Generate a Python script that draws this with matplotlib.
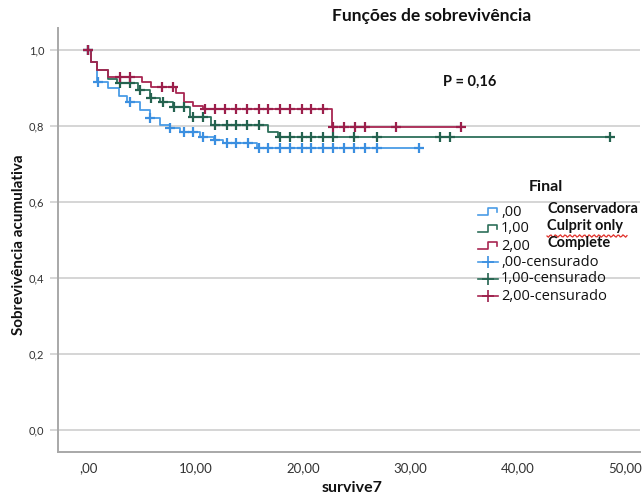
import numpy as np
import matplotlib
matplotlib.use("Agg")
import matplotlib.pyplot as plt
from matplotlib.lines import Line2D

# Kaplan-Meier step data: event times and survival after each event
blue_t = [0.3, 0.8, 1.9, 2.9, 3.6, 4.8, 5.8, 6.7, 7.6, 8.6, 10.4, 11.7, 12.6, 15.7]
blue_s = [0.969, 0.917, 0.900, 0.880, 0.864, 0.842, 0.820, 0.803, 0.794, 0.785,
          0.772, 0.763, 0.754, 0.741]
blue_cens = [0.0, 0.9, 3.9, 5.8, 7.6, 8.9, 9.8, 10.7, 11.8, 12.9, 13.8, 14.9, 15.9,
             16.8, 17.9, 18.8, 19.9, 20.8, 21.9, 22.8, 23.8, 24.8, 25.8, 26.9, 30.8]

green_t = [0.3, 0.8, 1.9, 2.7, 4.7, 5.8, 6.7, 7.9, 9.5, 11.5, 16.8, 17.7]
green_s = [0.969, 0.947, 0.925, 0.912, 0.895, 0.873, 0.864, 0.851, 0.825, 0.803,
           0.785, 0.772]
green_cens = [0.0, 3.0, 3.9, 4.8, 5.9, 7.0, 8.0, 8.9, 9.8, 10.7, 11.8, 12.9, 13.8,
              14.8, 15.9, 17.9, 18.8, 19.9, 20.8, 21.9, 22.8, 24.8, 26.9, 32.8,
              33.7, 48.6]

red_t = [0.3, 0.8, 1.9, 5.0, 5.9, 8.2, 8.9, 9.8, 10.7, 22.7]
red_s = [0.969, 0.947, 0.930, 0.917, 0.903, 0.886, 0.864, 0.852, 0.845, 0.798]
red_cens = [0.0, 3.0, 3.9, 6.9, 7.9, 10.9, 11.8, 12.8, 13.8, 14.8, 15.9, 16.8, 17.9,
            18.8, 19.9, 20.8, 21.9, 22.8, 23.8, 24.9, 25.8, 28.7, 34.7]

group_codes = [",00", "1,00", "2,00"]
group_names = ["Conservadora", "Culprit only", "Complete"]
y_ticks = [0.0, 0.2, 0.4, 0.6, 0.8, 1.0]
y_labels = ["0,0", "0,2", "0,4", "0,6", "0,8", "1,0"]
x_ticks = [0, 10, 20, 30, 40, 50]
x_labels = [",00", "10,00", "20,00", "30,00", "40,00", "50,00"]

line_colors = ["#4a9ce6", "#2d6f5a", "#a82652"]
mark_colors = ["#3b8fe0", "#24624f", "#9c1f4b"]

plt.rcParams["font.family"] = ["Lato", "DejaVu Sans"]
LEG_FONT = ["Open Sans", "DejaVu Sans"]

W, H = 643, 504
fig = plt.figure(figsize=(W / 100, H / 100), dpi=100)


def fx(x):
    return np.asarray(x) / W


def fy(y):
    return 1 - np.asarray(y) / H


ax = fig.add_axes([fx(58), fy(452), fx(640) - fx(58), fy(28) - fy(452)])
ax.set_xlim(-2.79, 51.4)
ax.set_ylim(-0.058, 1.058)

for yv in y_ticks:
    ax.axhline(yv, color="#d2d2d2", lw=1.3, zorder=0)

series = [(blue_t, blue_s, blue_cens), (green_t, green_s, green_cens),
          (red_t, red_s, red_cens)]
for i, (t, s, c) in enumerate(series):
    t = np.asarray(t)
    s = np.asarray(s)
    c = np.asarray(c)
    end = max(c.max(), t.max())
    xs = np.concatenate([[0.0], t, [end]])
    ys = np.concatenate([[1.0], s, [s[-1]]])
    ax.step(xs, ys, where="post", color=line_colors[i], lw=1.3, zorder=2 + i)
    idx = np.searchsorted(t, c, side="right")
    cs = np.where(idx == 0, 1.0, s[np.maximum(idx - 1, 0)])
    ax.plot(c, cs, ls="none", marker="+", ms=7, mew=1.6, color=mark_colors[i],
            zorder=5 + i)

for sp in ["top", "right"]:
    ax.spines[sp].set_visible(False)
for sp in ["left", "bottom"]:
    ax.spines[sp].set_color("#a8a8a8")
    ax.spines[sp].set_linewidth(1.4)

ax.set_yticks(y_ticks)
ax.set_yticklabels(y_labels, fontsize=8, color="#333333")
ax.set_xticks(x_ticks)
ax.set_xticklabels(x_labels, fontsize=9.5, color="#333333")
ax.tick_params(axis="y", length=6, width=1.2, color="#cfcfcf", pad=4)
ax.tick_params(axis="x", length=0, pad=7)

fig.text(fx(432), fy(16), "Funções de sobrevivência", ha="center", va="center",
         fontsize=12.5, fontweight="bold", color="#111111")
fig.text(fx(19), fy(245), "Sobrevivência acumulativa", rotation=90, ha="center",
         va="center", fontsize=11, fontweight="bold", color="#111111")
fig.text(fx(352), fy(488), "survive7", ha="center", va="center", fontsize=11.5,
         fontweight="bold", color="#111111")
fig.text(fx(470), fy(82), "P = 0,16", ha="center", va="center", fontsize=10.5,
         fontweight="bold", color="#111111")

# Legend, drawn by hand
fig.text(fx(546), fy(187), "Final", ha="center", va="center", fontsize=11.5,
         fontweight="bold", color="#111111")
row_y = [212, 229, 246, 262, 279, 296]
for i in range(3):
    yb = row_y[i] + 3
    yt = row_y[i] - 4
    xs = [478, 488, 488, 497, 497]
    ys = [yb, yb, yt, yt, yt + 4]
    fig.add_artist(Line2D(fx(xs), fy(ys), color=line_colors[i], lw=1.2))
    fig.text(fx(501), fy(row_y[i]), group_codes[i], ha="left", va="center",
             fontsize=10.5, color="#111111", family=LEG_FONT)
    fig.text(fx(547), fy(row_y[i] - 3), group_names[i], ha="left", va="center",
             fontsize=10.5, fontweight="bold", color="#111111")
for i in range(3):
    yr = row_y[3 + i]
    fig.add_artist(Line2D(fx([478, 498]), fy([yr, yr]),
                          color=line_colors[i], lw=1.2))
    fig.add_artist(Line2D(fx([488]), fy([yr]), marker="+", ms=9, mew=1.2,
                          color=mark_colors[i]))
    fig.text(fx(501), fy(yr), group_codes[i] + "-censurado", ha="left",
             va="center", fontsize=10.5, color="#111111", family=LEG_FONT)

# spell-check squiggle under "Culprit only"
wx = np.linspace(547, 627, 60)
wy = 236 + 1.2 * np.sin((wx - 547) * 1.3)
fig.add_artist(Line2D(fx(wx), fy(wy), color="#e0302a", lw=0.9))

fig.savefig("out.png", dpi=100)
